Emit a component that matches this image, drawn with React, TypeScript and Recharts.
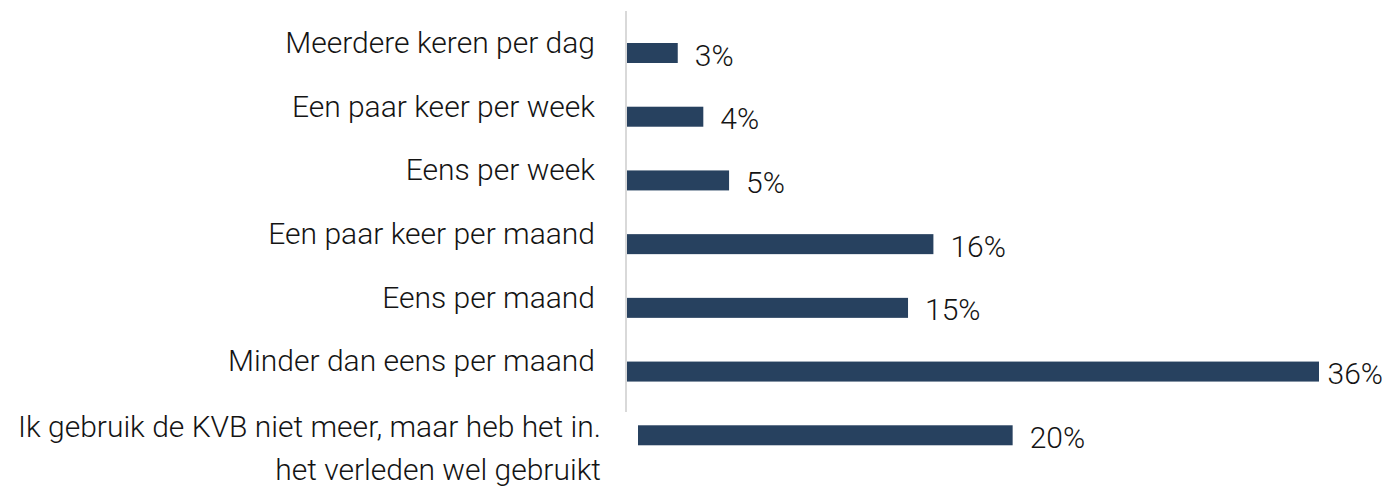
import { BarChart, Bar, XAxis, YAxis, ReferenceLine, LabelList } from "recharts";

const categories = [
  "Meerdere keren per dag",
  "Een paar keer per week",
  "Eens per week",
  "Een paar keer per maand",
  "Eens per maand",
  "Minder dan eens per maand",
  "Ik gebruik de KVB niet meer, maar heb het in.\nhet verleden wel gebruikt",
];
const shares = [2.64, 3.97, 5.31, 15.94, 14.62, 36, 19.49];
const shareLabels = ["3%", "4%", "5%", "16%", "15%", "36%", "20%"];

const data = categories.map((name, i) => ({ name, share: shares[i] }));

const chartWidth = 1388;
const chartHeight = 487;
const barColor = "#27415f";
const textColor = "#141414";
const font = "Roboto, sans-serif";
const fontSize = 30;
const fontWeight = 300;
// the last row is drawn slightly indented in the original
const indentedRow = 6;
const indent = 11;

function CategoryTick(props: any) {
  const { x, y, payload } = props;
  const lines = String(payload.value).split("\n");
  if (lines.length === 1) {
    return (
      <text x={x - 32} y={y} textAnchor="end" fill={textColor} fontSize={fontSize} fontWeight={fontWeight} fontFamily={font}>
        {payload.value}
      </text>
    );
  }
  return (
    <text x={x - 26} y={y + 2} textAnchor="end" fill={textColor} fontSize={fontSize} fontWeight={fontWeight} fontFamily={font}>
      {lines.map((l, i) => (
        <tspan key={i} x={x - 26} dy={i === 0 ? 0 : 43}>
          {l}
        </tspan>
      ))}
    </text>
  );
}

function IndentedBar(props: any) {
  const { x, y, width, height, index } = props;
  const dx = index === indentedRow ? indent : 0;
  return <rect x={x + dx} y={y} width={width} height={height} fill={barColor} />;
}

function ValueLabel(props: any) {
  const { x, y, width, height, index } = props;
  const dx = index === indentedRow ? indent : 0;
  const text = shareLabels[index];
  const left = x + width + dx + 17;
  // labels that would run off the right edge are pulled back inside
  const fits = left + text.length * 19 < chartWidth - 4;
  return (
    <text
      x={fits ? left : chartWidth - 5}
      y={y + height / 2 + 2}
      textAnchor={fits ? "start" : "end"}
      dominantBaseline="central"
      fill={textColor}
      fontSize={fontSize}
      fontWeight={fontWeight}
      fontFamily={font}
    >
      {text}
    </text>
  );
}

// axis line: starts a little above the plot and stops below the 6th row
function AxisLine(p: any) {
  const top = Math.min(p.y1, p.y2);
  const bottom = Math.max(p.y1, p.y2);
  return <line x1={p.x1 - 1} x2={p.x2 - 1} y1={top - 10} y2={bottom - 55} stroke="#d9d9d9" strokeWidth={2} />;
}

export default function App() {
  return (
    <div style={{ position: "absolute", left: 0, top: 0, width: chartWidth, height: chartHeight, background: "#fff" }}>
      <BarChart
        width={chartWidth}
        height={chartHeight}
        data={data}
        layout="vertical"
        margin={{ top: 21, right: 69, bottom: 20, left: 0 }}
        barSize={20}
      >
        <XAxis type="number" domain={[0, 36]} hide />
        <YAxis
          type="category"
          dataKey="name"
          width={627}
          axisLine={false}
          tickLine={false}
          tickSize={0}
          tickMargin={0}
          interval={0}
          tick={<CategoryTick />}
        />
        <Bar dataKey="share" shape={<IndentedBar />} isAnimationActive={false}>
          <LabelList dataKey="share" content={<ValueLabel />} />
        </Bar>
        <ReferenceLine x={0} shape={<AxisLine />} />
      </BarChart>
    </div>
  );
}
